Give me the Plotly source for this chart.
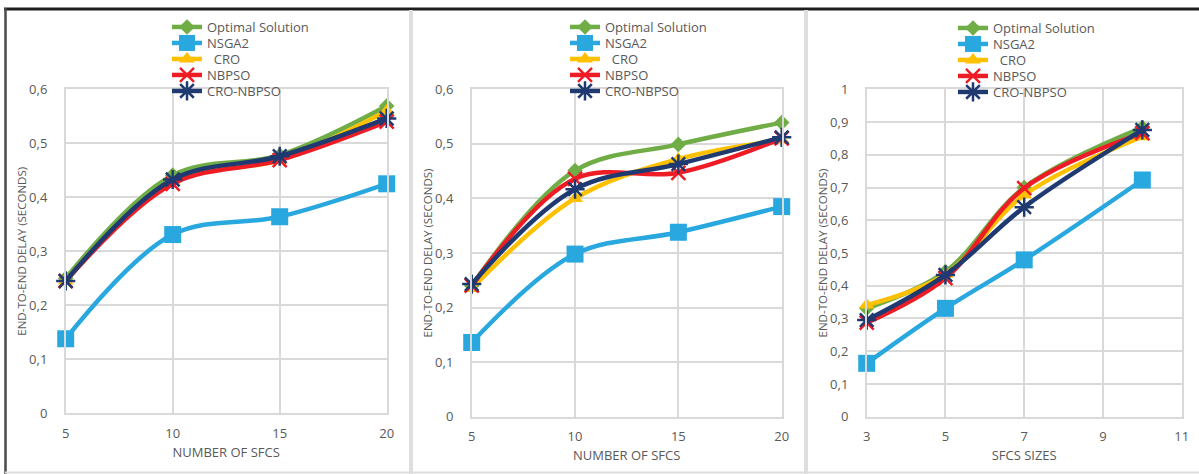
import plotly.graph_objects as go

# ---------------- data ----------------
series_names = ["Optimal Solution", "NSGA2", "\u00a0\u00a0CRO", "NBPSO", "CRO-NBPSO"]
sfc_counts = [5, 10, 15, 20]
sfc_sizes = [3, 5, 7, 10]

p1_optimal = [0.250, 0.441, 0.478, 0.569]
p1_nsga2 = [0.138, 0.331, 0.364, 0.425]
p1_cro = [0.245, 0.430, 0.469, 0.560]
p1_nbpso = [0.245, 0.425, 0.469, 0.540]
p1_cronbpso = [0.245, 0.433, 0.476, 0.546]

p2_optimal = [0.240, 0.451, 0.499, 0.539]
p2_nsga2 = [0.136, 0.298, 0.338, 0.385]
p2_cro = [0.235, 0.400, 0.472, 0.507]
p2_nbpso = [0.240, 0.436, 0.447, 0.510]
p2_cronbpso = [0.243, 0.417, 0.463, 0.512]

p3_optimal = [0.331, 0.443, 0.700, 0.883]
p3_nsga2 = [0.163, 0.331, 0.479, 0.723]
p3_cro = [0.341, 0.435, 0.677, 0.855]
p3_nbpso = [0.287, 0.423, 0.698, 0.866]
p3_cronbpso = [0.295, 0.433, 0.640, 0.876]

x_titles = ["NUMBER OF SFCS", "NUMBER OF SFCS", "SFCS SIZES"]
y_title = "END-TO-END DELAY (SECONDS)"

# ---------------- styles ----------------
W, H = 1199, 474
colors = ["#70AD47", "#29A8E0", "#FFC000", "#EE1C25", "#1F3A70"]
markers = [
    dict(symbol="diamond", size=12),
    dict(symbol="square", size=17),
    dict(symbol="triangle-up", size=14),
    dict(symbol="x-thin-open", size=14, line=dict(width=2.5)),
    dict(symbol="asterisk-open", size=16, line=dict(width=2.5)),
]
TXT = "#595959"
GRID = "#D9D9D9"
FONT = "Open Sans"

panels = [
    dict(x=sfc_counts, ys=[p1_optimal, p1_nsga2, p1_cro, p1_nbpso, p1_cronbpso],
         px=(65.7, 386.7), py=(89.3, 413.3), xr=[5, 20], xd=5, yr=[0, 0.6],
         legx=207, legy=[27, 43, 59, 75, 91]),
    dict(x=sfc_counts, ys=[p2_optimal, p2_nsga2, p2_cro, p2_nbpso, p2_cronbpso],
         px=(471.7, 781.7), py=(89.3, 416.7), xr=[5, 20], xd=5, yr=[0, 0.6],
         legx=605, legy=[27, 43, 59, 75, 91]),
    dict(x=sfc_sizes, ys=[p3_optimal, p3_nsga2, p3_cro, p3_nbpso, p3_cronbpso],
         px=(866.7, 1181.7), py=(89.3, 416.7), xr=[3, 11], xd=2, yr=[0, 1],
         legx=993, legy=[28, 44, 60, 76, 92]),
]

fig = go.Figure()
layout = dict(
    width=W, height=H, margin=dict(l=0, r=0, t=0, b=0),
    paper_bgcolor="white", plot_bgcolor="white", showlegend=True,
    separators=", ", font=dict(family=FONT, color=TXT, size=13),
)

legend_index = 0
for i, p in enumerate(panels):
    n = "" if i == 0 else str(i + 1)
    for k in range(5):
        legend_index += 1
        legname = "legend" if legend_index == 1 else "legend" + str(legend_index)
        m = dict(markers[k])
        m["color"] = colors[k]
        if "line" in m:
            m["line"] = dict(m["line"], color=colors[k])
        fig.add_trace(go.Scatter(
            x=p["x"], y=p["ys"][k], name=series_names[k], showlegend=True,
            mode="lines+markers", line=dict(color=colors[k], width=4.5, shape="spline", smoothing=1),
            marker=m, xaxis="x" + n, yaxis="y" + n, legend=legname, cliponaxis=False,
        ))
        layout[legname] = dict(
            x=(p["legx"] - 40) / W, y=1 - p["legy"][k] / H, xanchor="left", yanchor="middle",
            bgcolor="rgba(0,0,0,0)", font=dict(size=13, color=TXT),
            itemwidth=30, borderwidth=0, visible=True,
        )
    x0, x1 = p["px"]
    yt, yb = p["py"]
    layout["xaxis" + n] = dict(
        domain=[x0 / W, x1 / W], range=p["xr"], dtick=p["xd"], tick0=p["xr"][0],
        showgrid=True, gridcolor=GRID, gridwidth=1.5, zeroline=False,
        showline=True, linecolor=GRID, linewidth=1.5, mirror=True,
        ticks="outside", ticklen=7, tickcolor="rgba(0,0,0,0)",
        tickfont=dict(size=13, color=TXT), anchor="y" + n, automargin=False,
        title=dict(text=x_titles[i], font=dict(size=13, color=TXT), standoff=7),
    )
    layout["yaxis" + n] = dict(
        domain=[1 - yb / H, 1 - yt / H], range=p["yr"], dtick=0.1,
        showgrid=True, gridcolor=GRID, gridwidth=1.5, zeroline=False,
        showline=True, linecolor=GRID, linewidth=1.5, mirror=True,
        ticks="outside", ticklen=14, tickcolor="rgba(0,0,0,0)",
        tickfont=dict(size=13, color=TXT), anchor="x" + n, automargin=False,
        title=dict(text=y_title, font=dict(size=11.5, color=TXT), standoff=0),
    )

# frame lines of the composite image
layout["shapes"] = [
    dict(type="line", xref="paper", yref="paper", x0=4 / W, x1=1, y0=1 - 9 / H, y1=1 - 9 / H,
         line=dict(color="#1E1E1E", width=3)),
    dict(type="line", xref="paper", yref="paper", x0=5.5 / W, x1=5.5 / W, y0=0, y1=1 - 8 / H,
         line=dict(color="#4A4A4A", width=2.5)),
    dict(type="line", xref="paper", yref="paper", x0=411 / W, x1=411 / W, y0=0, y1=1 - 10 / H,
         line=dict(color="#DEDEDE", width=4)),
    dict(type="line", xref="paper", yref="paper", x0=806 / W, x1=806 / W, y0=0, y1=1 - 10 / H,
         line=dict(color="#DEDEDE", width=4)),
    dict(type="line", xref="paper", yref="paper", x0=5 / W, x1=1, y0=1.5 / H, y1=1.5 / H,
         line=dict(color="#DEDEDE", width=2)),
]
fig.update_layout(**layout)
fig.write_html(
    "out.html",
    config={"displayModeBar": False},
    post_script="document.body.style.margin='0px';document.body.style.overflow='hidden';",
)
